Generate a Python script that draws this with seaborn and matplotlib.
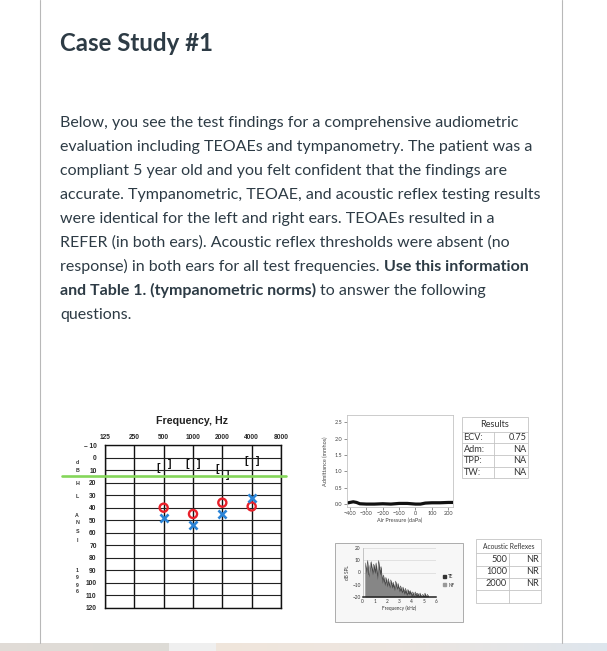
import numpy as np
import matplotlib
matplotlib.use("Agg")
import matplotlib.pyplot as plt
import seaborn as sns
from matplotlib.patches import Rectangle, Patch

W, H = 607, 651

# texto de la página
titulo = "Case Study #1"
lineas = [
    [("Below, you see the test findings for a comprehensive audiometric", "normal")],
    [("evaluation including TEOAEs and tympanometry. The patient was a", "normal")],
    [("compliant 5 year old and you felt confident that the findings are", "normal")],
    [("accurate. Tympanometric, TEOAE, and acoustic reflex testing results", "normal")],
    [("were identical for the left and right ears. TEOAEs resulted in a", "normal")],
    [("REFER (in both ears). Acoustic reflex thresholds were absent (no", "normal")],
    [("response) in both ears for all test frequencies.", "normal"), ("Use this information", "bold")],
    [("and Table 1. (tympanometric norms)", "bold"), ("to answer the following", "normal")],
    [("questions.", "normal")],
]

# audiograma
frecuencias = ["125", "250", "500", "1000", "2000", "4000", "8000"]
db_ticks = [-10, 0, 10, 20, 30, 40, 50, 60, 70, 80, 90, 100, 110, 120]
frec_medidas = ["500", "1000", "2000", "4000"]
aerea_der = [40, 45, 36, 39]     # O rojo
aerea_izq = [48, 54, 45, 32]     # X azul
osea_der = [8, 5, 9, 3]          # [
osea_izq = [5, 5, 14, 3]         # ]
norma_db = 15                    # linea verde
etiqueta_y = list("dBHLANSI1996")
etiqueta_y_db = [4, 10, 21, 31, 46, 52, 59, 66, 90, 96, 102, 107]

# timpanograma
presion = [-420, -400, -380, -360, -340, -300, -250, -200, -150, -100, -50, 0, 30, 60, 100, 150, 200, 229]
admitancia = [0.03, 0.05, 0.07, 0.05, 0.01, 0.0, 0.0, 0.01, 0.0, 0.02, 0.02, 0.0, 0.0, 0.03, 0.04, 0.04, 0.05, 0.05]

# TEOAE (kHz, dB SPL)
oae_frec = [0.2, 0.3, 0.4, 0.5, 0.6, 0.7, 0.8, 0.9, 1.0, 1.1, 1.2, 1.3, 1.4, 1.5, 1.6, 1.7, 1.8, 1.9,
            2.0, 2.1, 2.2, 2.3, 2.4, 2.5, 2.6, 2.7, 2.8, 2.9, 3.0, 3.1, 3.2, 3.3, 3.4, 3.5, 3.6, 3.7,
            3.8, 3.9, 4.0, 4.1, 4.2, 4.3, 4.4, 4.5, 4.6, 4.7, 4.8, 4.9, 5.0, 5.1, 5.2, 5.3, 5.4]
oae_te = [8, 2, 10, -2, 6, 9, 1, 7, 3, 8, -3, 10, 2, 5, -6, -2, -8, -4,
          -9, -5, -11, -6, -10, -8, -13, -7, -12, -9, -14, -11, -15, -12, -16, -13, -17, -14,
          -16, -15, -18, -16, -19, -16, -18, -17, -19, -17, -20, -18, -19, -17, -20, -18, -20]
oae_nf = [5, -1, 6, -4, 3, 5, -2, 3, -1, 4, -6, 5, -2, 1, -9, -5, -11, -7,
          -12, -8, -13, -9, -13, -11, -15, -10, -14, -12, -16, -14, -17, -15, -18, -16, -19, -17,
          -18, -17, -20, -18, -20, -18, -20, -19, -20, -19, -20, -20, -20, -19, -20, -20, -20]

# tablas
res_etiquetas = ["ECV:", "Adm:", "TPP:", "TW:"]
res_valores = ["0.75", "NA", "NA", "NA"]
ar_frec = ["500", "1000", "2000", ""]
ar_valores = ["NR", "NR", "NR", ""]

sns.set_theme(style="white")
plt.rcParams['font.family'] = ['Lato', 'DejaVu Sans']

fig = plt.figure(figsize=(W / 100, H / 100), dpi=100)
fig.patch.set_facecolor('white')
pg = fig.add_axes([0, 0, 1, 1])
pg.set_xlim(0, W); pg.set_ylim(H, 0); pg.axis('off')
renderer = fig.canvas.get_renderer()

def caja(x0, y0, x1, y1):
    return [x0 / W, 1 - y1 / H, (x1 - x0) / W, (y1 - y0) / H]

# marco de la tarjeta y franja inferior
for xb in (39.5, 562):
    pg.plot([xb, xb], [0, 643], color='#b8b8b8', lw=0.8)
xs = np.arange(W)
anc_x = [0, 168, 169, 215, 216, 400, 606]
anc_c = np.array([[0.88, 0.86, 0.84], [0.87, 0.86, 0.84], [0.94, 0.94, 0.94], [0.94, 0.94, 0.94],
                  [0.94, 0.90, 0.86], [0.93, 0.90, 0.88], [0.87, 0.90, 0.93]])
grad = np.stack([np.interp(xs, anc_x, anc_c[:, k]) for k in range(3)], axis=-1)[None, :, :]
pg.imshow(grad, extent=[0, W, H, 643], aspect='auto', interpolation='bilinear')
pg.set_xlim(0, W); pg.set_ylim(H, 0)

# título y párrafo
col_txt = '#2d3b45'
pg.text(60, 51, titulo, fontsize=17.3, fontweight='bold', color=col_txt, va='baseline')
fs = 11.5
ta = pg.text(0, 0, "n n", fontsize=fs); tb = pg.text(0, 0, "nn", fontsize=fs)
esp = ta.get_window_extent(renderer).width - tb.get_window_extent(renderer).width
ta.remove(); tb.remove()
for i, segs in enumerate(lineas):
    y = 127 + 24 * i
    x = 60
    for j, (txt, peso) in enumerate(segs):
        if j > 0:
            x += esp
        t = pg.text(x, y, txt, fontsize=fs, fontweight=peso, color=col_txt, va='baseline')
        x += t.get_window_extent(renderer).width

# audiograma
fa = ['Liberation Sans', 'DejaVu Sans']
ax_a = fig.add_axes(caja(105, 445, 281, 608))
ax_a.set_xlim(0, 6); ax_a.set_ylim(120, -10)
for k in range(len(frecuencias)):
    ax_a.axvline(k, color='#111111', lw=1.0, zorder=1)
for d in db_ticks:
    ax_a.axhline(d, color='#222222', lw=0.8, zorder=1)
for s in ax_a.spines.values():
    s.set_color('#111111'); s.set_linewidth(1.0)
ax_a.xaxis.tick_top()
ax_a.set_xticks(range(len(frecuencias)))
ax_a.set_xticklabels(frecuencias)
ax_a.set_yticks(db_ticks)
ax_a.set_yticklabels(["– 10"] + [str(d) for d in db_ticks[1:]])
ax_a.tick_params(axis='x', length=0, pad=3, labelsize=4.8)
ax_a.tick_params(axis='y', length=0, pad=6, labelsize=4.8)
for lab in ax_a.get_xticklabels() + ax_a.get_yticklabels():
    lab.set_family(fa); lab.set_fontweight('bold'); lab.set_color('#2a2a2a')
idx = [frecuencias.index(f) for f in frec_medidas]
sns.scatterplot(x=idx, y=aerea_der, ax=ax_a, marker='o', s=34, color='none',
                edgecolor='#e8202a', linewidth=1.7, zorder=4)
sns.scatterplot(x=idx, y=aerea_izq, ax=ax_a, marker='x', s=34, color='#2b84d6',
                linewidth=1.9, zorder=4)
for k, vd, vi in zip(idx, osea_der, osea_izq):
    ax_a.text(k - 0.19, vd, "[", ha='center', va='center', fontsize=7.5, fontweight='bold',
              family=fa, color='#111111', zorder=5)
    ax_a.text(k + 0.19, vi, "]", ha='center', va='center', fontsize=7.5, fontweight='bold',
              family=fa, color='#111111', zorder=5)
ax_a.plot([-1.47, 6.17], [norma_db, norma_db], color='#84d65a', lw=1.9, clip_on=False, zorder=6)
for letra, yd in zip(etiqueta_y, etiqueta_y_db):
    ax_a.text(-0.95, yd, letra, ha='center', va='center', fontsize=3.8, fontweight='bold',
              family=fa, color='#333333')
pg.text(192, 421, "Frequency, Hz", ha='center', va='center', fontsize=7.7, fontweight='bold',
        family=fa, color='#222222')

# timpanograma
ax_t = fig.add_axes(caja(346.7, 415, 453, 506.7))
sns.lineplot(x=presion, y=admitancia, ax=ax_t, color='#111111', lw=2.3)
ax_t.set_xlim(-420, 229); ax_t.set_ylim(-0.08, 2.72)
ax_t.set_xticks([-400, -300, -200, -100, 0, 100, 200])
ax_t.set_yticks([0, 0.5, 1.0, 1.5, 2.0, 2.5])
ax_t.set_yticklabels(['0.0', '0.5', '1.0', '1.5', '2.0', '2.5'])
ax_t.tick_params(length=2, width=0.5, color='#666666', labelsize=4, labelcolor='#444444', pad=1,
                 bottom=True, left=True)
for s in ax_t.spines.values():
    s.set_color('#c4c4c4'); s.set_linewidth(0.6)
ax_t.set_xlabel('Air Pressure (daPa)', fontsize=4, color='#444444', labelpad=1.5)
ax_t.set_ylabel('Admittance (mmhos)', fontsize=4, color='#444444', labelpad=5)

# TEOAE
pg.add_patch(Rectangle((335, 543), 128, 79, facecolor='#f7f7f7', edgecolor='#a0a0a0', lw=0.6))
ax_o = fig.add_axes(caja(362.7, 548.3, 436, 596.7))
ax_o.set_facecolor('#f7f7f7')
ax_o.fill_between(oae_frec, -20, oae_te, color='#4a4a4a', lw=0)
ax_o.fill_between(oae_frec, -20, oae_nf, color='#868686', lw=0)
sns.lineplot(x=oae_frec, y=oae_te, ax=ax_o, color='#3a3a3a', lw=0.3)
ax_o.set_xlim(0, 6); ax_o.set_ylim(-20, 20)
ax_o.set_xticks(range(7)); ax_o.set_yticks([-20, -10, 0, 10, 20])
for d in (0, 10, 20):
    ax_o.axhline(d, color='#d0d0d0', lw=0.4, zorder=0)
ax_o.tick_params(length=0, labelsize=3.4, labelcolor='#333333', pad=1.5)
for s in ax_o.spines.values():
    s.set_visible(False)
ax_o.spines['bottom'].set_visible(True); ax_o.spines['bottom'].set_color('#222222')
ax_o.spines['bottom'].set_linewidth(1.1)
ax_o.spines['left'].set_visible(True); ax_o.spines['left'].set_color('#b0b0b0')
ax_o.spines['left'].set_linewidth(0.5)
ax_o.set_xlabel('Frequency (kHz)', fontsize=3.4, color='#333333', labelpad=1.5)
ax_o.set_ylabel('dB SPL', fontsize=3.4, color='#333333', labelpad=1.5)
ax_o.legend(handles=[Patch(color='#333333', label='TE'), Patch(color='#999999', label='NF')],
            loc='center left', bbox_to_anchor=(1.04, 0.33), frameon=False, fontsize=3.4,
            handlelength=0.6, handleheight=0.6, handletextpad=0.5, labelspacing=0.8,
            labelcolor='#333333')

# tablas
col_lin = '#c4c4c4'
col_tab = '#333333'
fr = 6.6
r_y = [417.3, 431.7, 443.3, 455, 466.7, 478.3]
pg.add_patch(Rectangle((461.7, r_y[0]), 66, r_y[-1] - r_y[0], fill=False, ec=col_lin, lw=0.6))
for yy in r_y[1:-1]:
    pg.plot([461.7, 527.7], [yy, yy], color=col_lin, lw=0.6)
pg.plot([494.3, 494.3], [r_y[1], r_y[-1]], color=col_lin, lw=0.6)
pg.text(494.7, (r_y[0] + r_y[1]) / 2, "Results", ha='center', va='center', fontsize=fr, color=col_tab)
for k, (e, v) in enumerate(zip(res_etiquetas, res_valores)):
    yc = (r_y[k + 1] + r_y[k + 2]) / 2
    pg.text(463.5, yc, e, ha='left', va='center', fontsize=fr, color=col_tab)
    pg.text(526.5, yc, v, ha='right', va='center', fontsize=fr, color=col_tab)

a_y = [539.3, 553.3, 566, 577.7, 590, 603]
pg.add_patch(Rectangle((476, a_y[0]), 65, a_y[-1] - a_y[0], fill=False, ec=col_lin, lw=0.6))
for yy in a_y[1:-1]:
    pg.plot([476, 541], [yy, yy], color=col_lin, lw=0.6)
pg.plot([509, 509], [a_y[1], a_y[-1]], color=col_lin, lw=0.6)
pg.text(508.5, (a_y[0] + a_y[1]) / 2, "Acoustic Reflexes", ha='center', va='center', fontsize=4.8,
        color=col_tab)
for k, (f, v) in enumerate(zip(ar_frec, ar_valores)):
    yc = (a_y[k + 1] + a_y[k + 2]) / 2
    pg.text(507, yc, f, ha='right', va='center', fontsize=fr, color=col_tab)
    pg.text(539, yc, v, ha='right', va='center', fontsize=fr, color=col_tab)

fig.savefig('out.png', dpi=100)
